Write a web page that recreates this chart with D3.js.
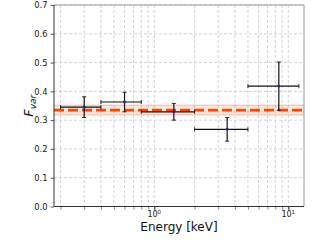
<!DOCTYPE html>
<html>
<head>
<meta charset="utf-8">
<script src="https://cdn.jsdelivr.net/npm/d3@7"></script>
<style>
  body { margin: 0; background: #fff; }
  svg { display: block; font-family: "DejaVu Sans", sans-serif; }
</style>
</head>
<body>
<div id="chart"></div>
<script>
// Dados
const energy = [0.3, 0.6, 1.4, 3.5, 8.5]
const energyLow = [0.2, 0.4, 0.8, 2.0, 5.0]
const energyHigh = [0.4, 0.8, 2.0, 5.0, 12.0]
const fvar = [0.345, 0.363, 0.329, 0.268, 0.418]
const fvarErr = [0.036, 0.034, 0.029, 0.041, 0.084]
const meanFvar = [0.335]
const meanBand = [0.318, 0.352]
const yTicks = [0.0, 0.1, 0.2, 0.3, 0.4, 0.5, 0.6, 0.7]

const width = 320
const height = 240
const margin = { top: 5, right: 16, bottom: 33.5, left: 54 }

const svg = d3.select("#chart")
  .append("svg")
  .attr("width", width)
  .attr("height", height)

const x = d3.scaleLog()
  .domain([0.1786, 13.1])
  .range([margin.left, width - margin.right])

const y = d3.scaleLinear()
  .domain([0, 0.7])
  .range([height - margin.bottom, margin.top])

// Grade (major e minor no eixo x)
const minorX = []
for (let e = -1; e <= 1; e++) {
  for (let k = 1; k <= 9; k++) {
    const v = k * Math.pow(10, e)
    if (v >= x.domain()[0] && v <= x.domain()[1]) minorX.push(v)
  }
}

svg.append("g")
  .selectAll("line")
  .data(minorX)
  .enter()
  .append("line")
  .attr("x1", (d) => x(d))
  .attr("x2", (d) => x(d))
  .attr("y1", margin.top)
  .attr("y2", height - margin.bottom)
  .attr("stroke", "#c8c8c8")
  .attr("stroke-width", 0.8)
  .attr("stroke-dasharray", "3,2")

svg.append("g")
  .selectAll("line")
  .data(yTicks.slice(1))
  .enter()
  .append("line")
  .attr("x1", margin.left)
  .attr("x2", width - margin.right)
  .attr("y1", (d) => y(d))
  .attr("y2", (d) => y(d))
  .attr("stroke", "#c8c8c8")
  .attr("stroke-width", 0.8)
  .attr("stroke-dasharray", "3,2")

// Faixa do valor médio
svg.append("rect")
  .attr("x", margin.left)
  .attr("width", width - margin.left - margin.right)
  .attr("y", y(meanBand[1]))
  .attr("height", y(meanBand[0]) - y(meanBand[1]))
  .attr("fill", "#ff6a3d")
  .attr("fill-opacity", 0.18)

meanBand.forEach((b) => {
  svg.append("line")
    .attr("x1", margin.left)
    .attr("x2", width - margin.right)
    .attr("y1", y(b))
    .attr("y2", y(b))
    .attr("stroke", "#ff6a3d")
    .attr("stroke-opacity", 0.5)
    .attr("stroke-width", 0.8)
})

svg.append("line")
  .attr("x1", margin.left)
  .attr("x2", width - margin.right)
  .attr("y1", y(meanFvar[0]))
  .attr("y2", y(meanFvar[0]))
  .attr("stroke", "#ff4500")
  .attr("stroke-width", 2.8)
  .attr("stroke-dasharray", "10,4")

// Barras de erro
const points = energy.map((e, i) => ({
  e: e, lo: energyLow[i], hi: energyHigh[i], f: fvar[i], err: fvarErr[i]
}))

const eb = svg.append("g")
points.forEach((p) => {
  eb.append("line")
    .attr("x1", x(p.lo)).attr("x2", x(p.hi))
    .attr("y1", y(p.f)).attr("y2", y(p.f))
    .attr("stroke", "#111").attr("stroke-width", 1.2)
  eb.append("line")
    .attr("x1", x(p.e)).attr("x2", x(p.e))
    .attr("y1", y(p.f - p.err)).attr("y2", y(p.f + p.err))
    .attr("stroke", "#111").attr("stroke-width", 1.2)
  ;[p.lo, p.hi].forEach((v) => {
    eb.append("line")
      .attr("x1", x(v)).attr("x2", x(v))
      .attr("y1", y(p.f) - 2).attr("y2", y(p.f) + 2)
      .attr("stroke", "#111").attr("stroke-width", 0.9)
  })
  ;[p.f - p.err, p.f + p.err].forEach((v) => {
    eb.append("line")
      .attr("x1", x(p.e) - 2).attr("x2", x(p.e) + 2)
      .attr("y1", y(v)).attr("y2", y(v))
      .attr("stroke", "#111").attr("stroke-width", 0.9)
  })
  eb.append("circle")
    .attr("cx", x(p.e)).attr("cy", y(p.f)).attr("r", 1.4)
    .attr("fill", "#1f1f8f")
})

// Eixos
const xAxis = d3.axisBottom(x)
  .tickValues(minorX)
  .tickSize(3)
  .tickFormat(() => "")
svg.append("g")
  .attr("transform", "translate(0," + (height - margin.bottom) + ")")
  .call(xAxis)
  .call((g) => g.select(".domain").remove())
  .call((g) => g.selectAll(".tick line").attr("stroke", "#333").attr("stroke-width", 0.6))

svg.append("g")
  .attr("transform", "translate(0," + (height - margin.bottom) + ")")
  .call(d3.axisBottom(x).tickValues([1, 10]).tickSize(4).tickFormat(() => ""))
  .call((g) => g.select(".domain").remove())
  .call((g) => g.selectAll(".tick line").attr("stroke", "#333").attr("stroke-width", 0.8))

const xLabels = svg.append("g")
;[[1, "0"], [10, "1"]].forEach(([v, ex]) => {
  const t = xLabels.append("text")
    .attr("x", x(v))
    .attr("y", height - margin.bottom + 10.5)
    .attr("text-anchor", "middle")
    .attr("font-size", 8)
    .attr("fill", "#222")
  t.append("tspan").text("10")
  t.append("tspan").attr("dy", -3.5).attr("font-size", 5.6).text(ex)
})

svg.append("g")
  .attr("transform", "translate(" + margin.left + ",0)")
  .call(d3.axisLeft(y).tickValues(yTicks).tickSize(3.5).tickFormat(d3.format(".1f")))
  .call((g) => g.select(".domain").remove())
  .call((g) => g.selectAll(".tick line").attr("stroke", "#333").attr("stroke-width", 0.8))
  .call((g) => g.selectAll(".tick text")
    .attr("font-size", 8.3)
    .attr("fill", "#222")
    .attr("font-family", "DejaVu Sans, sans-serif"))

// Moldura
svg.append("line")
  .attr("x1", margin.left).attr("x2", width - margin.right)
  .attr("y1", margin.top).attr("y2", margin.top)
  .attr("stroke", "#999").attr("stroke-width", 1)
svg.append("line")
  .attr("x1", width - margin.right).attr("x2", width - margin.right)
  .attr("y1", margin.top).attr("y2", height - margin.bottom)
  .attr("stroke", "#999").attr("stroke-width", 1)
svg.append("line")
  .attr("x1", margin.left).attr("x2", margin.left)
  .attr("y1", margin.top).attr("y2", height - margin.bottom)
  .attr("stroke", "#333").attr("stroke-width", 1)
svg.append("line")
  .attr("x1", margin.left).attr("x2", width - margin.right)
  .attr("y1", height - margin.bottom).attr("y2", height - margin.bottom)
  .attr("stroke", "#333").attr("stroke-width", 1)

// Rótulos
svg.append("text")
  .attr("x", (margin.left + width - margin.right) / 2)
  .attr("y", 231)
  .attr("text-anchor", "middle")
  .attr("font-size", 12)
  .attr("fill", "#111")
  .text("Energy [keV]")

const yLabel = svg.append("text")
  .attr("transform", "translate(33," + ((margin.top + height - margin.bottom) / 2) + ") rotate(-90)")
  .attr("text-anchor", "middle")
  .attr("font-size", 13)
  .attr("fill", "#111")
yLabel.append("tspan").attr("font-style", "italic").text("F")
yLabel.append("tspan").attr("font-size", 9).attr("font-style", "italic").attr("dy", 3).text("var")
</script>
</body>
</html>
